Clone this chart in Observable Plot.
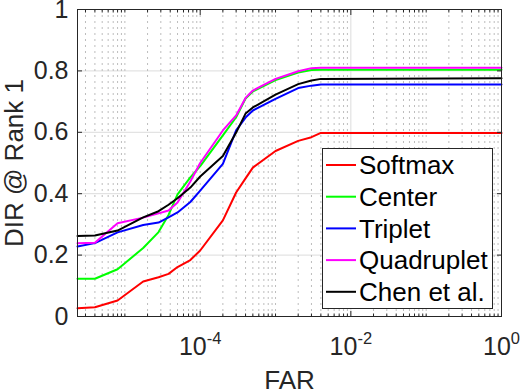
<!DOCTYPE html>
<html>
<head>
<meta charset="utf-8">
<script src="https://cdn.jsdelivr.net/npm/d3@7"></script>
<script src="https://cdn.jsdelivr.net/npm/@observablehq/plot@0.6"></script>
<style>
  html, body { margin: 0; padding: 0; background: #fff; }
  #wrap { position: relative; width: 520px; height: 391px; }
  #legend { position: absolute; left: 322px; top: 148px; }
</style>
</head>
<body>
<div id="wrap"></div>
<script>
// ---- data ----
const far = [2.35e-6, 4e-6, 8e-6, 1.75e-5, 2.8e-5, 3.8e-5, 5e-5, 7.4e-5, 1e-4, 2e-4, 3e-4, 4e-4, 5e-4, 1e-3, 2e-3, 3e-3, 4e-3, 1];
const softmax    = [0.027, 0.030, 0.052, 0.114, 0.128, 0.139, 0.161, 0.184, 0.215, 0.313, 0.404, 0.450, 0.485, 0.539, 0.572, 0.584, 0.598, 0.598];
const center     = [0.123, 0.123, 0.154, 0.223, 0.275, 0.331, 0.398, 0.453, 0.490, 0.590, 0.649, 0.710, 0.733, 0.770, 0.795, 0.803, 0.804, 0.804];
const triplet    = [0.228, 0.239, 0.274, 0.298, 0.306, 0.323, 0.339, 0.373, 0.410, 0.497, 0.606, 0.648, 0.671, 0.709, 0.744, 0.752, 0.756, 0.756];
const quadruplet = [0.239, 0.240, 0.304, 0.322, 0.336, 0.345, 0.371, 0.440, 0.500, 0.606, 0.655, 0.712, 0.736, 0.774, 0.799, 0.809, 0.810, 0.810];
const chen       = [0.262, 0.264, 0.280, 0.323, 0.343, 0.364, 0.385, 0.420, 0.456, 0.523, 0.599, 0.661, 0.681, 0.723, 0.757, 0.769, 0.774, 0.776];

const methods = ["Softmax", "Center", "Triplet", "Quadruplet", "Chen et al."];
const colors  = ["#ff0000", "#00ff00", "#0000ff", "#ff00ff", "#000000"];
const series  = [softmax, center, triplet, quadruplet, chen];

const yTicks = [0, 0.2, 0.4, 0.6, 0.8, 1];
const xMajorTicks = [1e-4, 1e-2, 1];
const xDomain = [2.35e-6, 1];

// minor (log) tick positions k*10^n inside the domain
const xMinorTicks = [];
for (let n = -6; n <= 0; n++) for (let k = 1; k <= 9; k++) {
  const v = +(k * Math.pow(10, n)).toPrecision(3);
  if (v >= xDomain[0] && v <= xDomain[1] && !xMajorTicks.includes(v)) xMinorTicks.push(v);
}

const rows = methods.flatMap((m, i) => far.map((f, j) => ({method: m, far: f, dir: series[i][j]})));

const FONT = "Helvetica, Arial, 'Liberation Sans', sans-serif";
const exp = d => Math.round(Math.log10(d));

const chart = Plot.plot({
  width: 520,
  height: 391,
  marginLeft: 77,
  marginRight: 19,
  marginTop: 9,
  marginBottom: 75,
  style: {fontFamily: FONT, fontSize: "25px", color: "#262626", background: "white", overflow: "visible"},
  x: {type: "log", domain: xDomain, axis: null, label: null},
  y: {domain: [0, 1], axis: null, label: null},
  color: {domain: methods, range: colors},
  marks: [
    Plot.gridY({ticks: [0.2, 0.4, 0.6, 0.8], stroke: "#dcdcdc", strokeOpacity: 1}),
    Plot.gridX({ticks: [1e-2], stroke: "#dcdcdc", strokeOpacity: 1}),
    Plot.gridX({ticks: [...xMinorTicks, 1e-4], stroke: "#bdbdbd", strokeOpacity: 1, strokeDasharray: "2,4"}),
    Plot.line(rows, {x: "far", y: "dir", z: "method", stroke: "method", strokeWidth: 2}),
    Plot.frame({stroke: "#262626", strokeWidth: 1}),
    // y axis (left labels, inward ticks) and right ticks
    Plot.axisY({ticks: yTicks, tickSize: -5, tickPadding: 14, tickFormat: d => String(d), label: null, fontSize: 25}),
    Plot.axisY({anchor: "right", ticks: yTicks, tickSize: -5, tickFormat: () => "", label: null}),
    // x axis major ticks with labels, minor ticks, top ticks
    Plot.axisX({ticks: xMajorTicks, tickSize: -5, tickPadding: 26, tickFormat: d => "10^" + exp(d), label: null, fontSize: 25}),
    Plot.axisX({ticks: xMinorTicks, tickSize: -2.5, tickFormat: () => "", label: null}),
    Plot.axisX({anchor: "top", ticks: xMajorTicks, tickSize: -5, tickFormat: () => "", label: null}),
    Plot.axisX({anchor: "top", ticks: xMinorTicks, tickSize: -2.5, tickFormat: () => "", label: null}),
    // axis titles
    Plot.text(["DIR @ Rank 1"], {text: d => d, frameAnchor: "left", textAnchor: "middle", lineAnchor: "middle", rotate: -90, dx: -63, fontSize: 26, fill: "#262626"}),
    Plot.text(["FAR"], {text: d => d, frameAnchor: "bottom", textAnchor: "middle", lineAnchor: "middle", dy: 64.5, fontSize: 26, fill: "#262626"})
  ]
});

// turn "10^-4" tick labels into 10 with a raised exponent
d3.select(chart).selectAll("text").each(function() {
  const t = this.textContent;
  if (t && t.startsWith("10^")) {
    const e = t.slice(3);
    const sel = d3.select(this);
    sel.text(null);
    sel.append("tspan").text("10");
    sel.append("tspan").attr("font-size", "16.5px").attr("dy", "-11.5").text(e);
  }
});

const wrap = document.getElementById("wrap");
wrap.appendChild(chart);

// legend box
const lg = d3.select(wrap).append("div").attr("id", "legend")
  .append("svg").attr("width", 172).attr("height", 162)
  .style("font-family", FONT).style("overflow", "visible");
lg.append("rect").attr("x", 0.5).attr("y", 0.5).attr("width", 170).attr("height", 160)
  .attr("fill", "white").attr("stroke", "#262626").attr("stroke-width", 1);
methods.forEach((m, i) => {
  const cy = 17 + i * 31.7;
  lg.append("line").attr("x1", 4).attr("x2", 34).attr("y1", cy).attr("y2", cy)
    .attr("stroke", colors[i]).attr("stroke-width", 2);
  lg.append("text").attr("x", 37).attr("y", cy).attr("dy", "0.35em")
    .attr("font-size", 26).attr("fill", "#000").text(m);
});
</script>
</body>
</html>
